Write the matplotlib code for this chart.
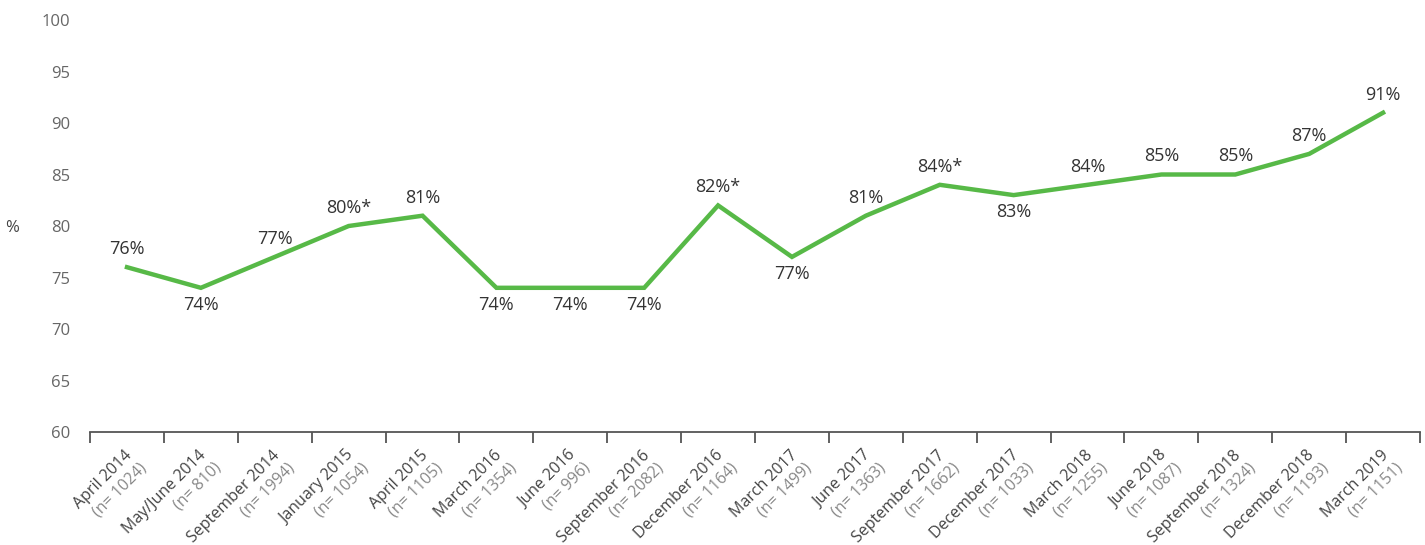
import matplotlib.pyplot as plt
from matplotlib.ticker import FixedLocator, MultipleLocator

plt.rcParams['font.family'] = ['Open Sans', 'DejaVu Sans']

# survey waves, sample sizes and share (%)
waves = ['April 2014', 'May/June 2014', 'September 2014', 'January 2015', 'April 2015',
         'March 2016', 'June 2016', 'September 2016', 'December 2016', 'March 2017',
         'June 2017', 'September 2017', 'December 2017', 'March 2018', 'June 2018',
         'September 2018', 'December 2018', 'March 2019']
n_sizes = [1024, 810, 1994, 1054, 1105, 1354, 996, 2082, 1164, 1499,
           1363, 1662, 1033, 1255, 1087, 1324, 1193, 1151]
values = [76, 74, 77, 80, 81, 74, 74, 74, 82, 77, 81, 84, 83, 84, 85, 85, 87, 91]
point_labels = ['76%', '74%', '77%', '80%*', '81%', '74%', '74%', '74%', '82%*', '77%',
                '81%', '84%*', '83%', '84%', '85%', '85%', '87%', '91%']
label_below = [False, True, False, False, False, True, True, True, False, True,
               False, False, True, False, False, False, False, False]

fig = plt.figure(figsize=(14.25, 5.45), dpi=100)
ax = fig.add_axes([0.0632, 0.2073, 0.9333, 0.756])

x = list(range(len(waves)))
ax.plot(x, values, color='#57B947', linewidth=3.2, solid_joinstyle='miter')

for xi, v, lab, below in zip(x, values, point_labels, label_below):
    off = -12.5 if below else 13
    ax.annotate(lab, (xi, v), xytext=(0, off), textcoords='offset points',
                ha='center', va='center', fontsize=13, color='#333333')

ax.set_xlim(-0.5, len(waves) - 0.5)
ax.set_ylim(60, 100)
ax.yaxis.set_major_locator(MultipleLocator(5))

for s in ['top', 'right', 'left']:
    ax.spines[s].set_visible(False)
ax.spines['bottom'].set_color('#555555')
ax.spines['bottom'].set_linewidth(1.3)

ax.tick_params(axis='y', length=0, pad=14, labelsize=12, labelcolor='#666666')

# boundary ticks between categories, labels at centers
ax.xaxis.set_minor_locator(FixedLocator([i - 0.5 for i in range(len(waves) + 1)]))
ax.tick_params(axis='x', which='minor', length=8, width=1.3, color='#555555', direction='out')
ax.set_xticks(x)
ax.set_xticklabels([])
ax.tick_params(axis='x', which='major', length=0)

tr = ax.get_xaxis_transform()
for xi, w, n in zip(x, waves, n_sizes):
    ax.annotate(w, (xi, 0), xycoords=tr, xytext=(-2, -11), textcoords='offset points',
                rotation=45, rotation_mode='anchor', ha='right', va='top',
                fontsize=11.5, color='#444444')
    ax.annotate('(n= %d)' % n, (xi, 0), xycoords=tr, xytext=(8.5, -20), textcoords='offset points',
                rotation=45, rotation_mode='anchor', ha='right', va='top',
                fontsize=11.5, color='#888888')

fig.text(12 / 1425, 1 - 228 / 545, '%', ha='center', va='center', fontsize=12, color='#444444')

plt.savefig('out.png', dpi=100)
plt.close()
